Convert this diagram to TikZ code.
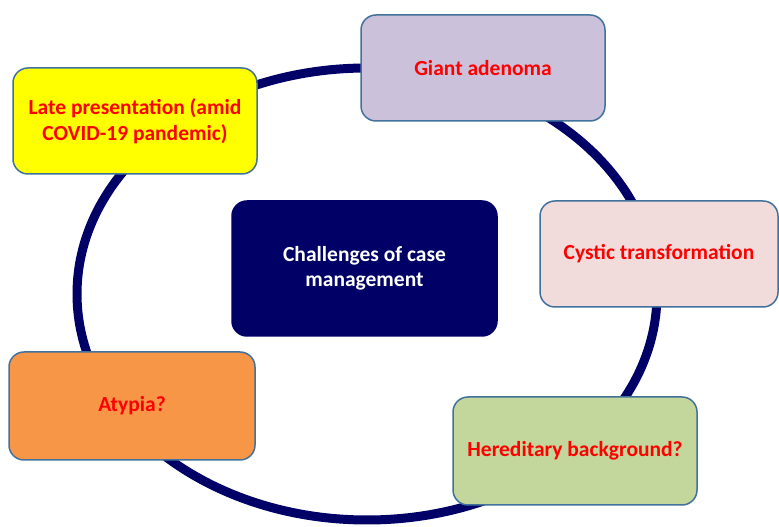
\documentclass[tikz,border=0pt]{standalone}
\usepackage{xcolor}
\usepackage{fontspec}
\setmainfont{Carlito}
\usepackage{tikz}

\begin{document}
\begin{tikzpicture}[x=1pt,y=1pt,
  box/.style={draw=borderColor,line width=1.5pt,rounded corners=15pt,
    inner sep=0pt,outer sep=0pt,align=center,text=textColor,
    font=\fontsize{21.5}{25.5}\selectfont\bfseries}]
\definecolor{fillColor}{RGB}{255,255,255}
\definecolor{ringColor}{RGB}{0,0,102}
\definecolor{borderColor}{RGB}{65,113,156}
\definecolor{textColor}{RGB}{255,0,0}
\definecolor{lateColor}{RGB}{255,255,0}
\definecolor{giantColor}{RGB}{204,193,218}
\definecolor{cysticColor}{RGB}{242,220,219}
\definecolor{atypiaColor}{RGB}{247,150,70}
\definecolor{heredColor}{RGB}{195,214,155}
\path[use as bounding box,fill=fillColor] (0,0) rectangle (779,527);

\coordinate (ring) at (367,233);
\path[draw=ringColor,line width=9pt] (ring) ellipse [x radius=290,y radius=226];

\node[box,fill=lateColor,minimum width=244pt,minimum height=106pt] (late) at (135,406)
  {Late presentation (amid\\COVID-19 pandemic)};

\node[box,fill=giantColor,minimum width=244pt,minimum height=106pt] (giant) at (483,459)
  {Giant adenoma};

\node[box,fill=cysticColor,minimum width=238pt,minimum height=106pt] (cystic) at (659,273)
  {Cystic transformation};

\node[box,fill=atypiaColor,minimum width=246pt,minimum height=108pt] (atypia) at (132,121)
  {Atypia?};

\node[box,fill=heredColor,minimum width=244pt,minimum height=108pt] (hered) at (575,76)
  {Hereditary background?};

\node[box,draw=ringColor,fill=ringColor,text=white,minimum width=265pt,minimum height=135pt] (centre) at (364.5,258.5)
  {Challenges of case\\management};
\end{tikzpicture}
\end{document}
